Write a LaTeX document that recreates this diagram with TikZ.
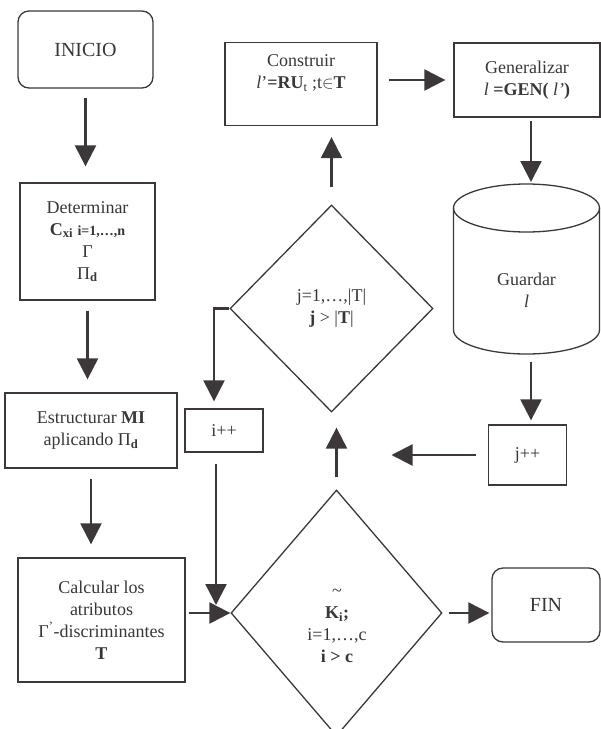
\documentclass[tikz,border=0pt]{standalone}
\usepackage{fontspec}
\setmainfont{Liberation Serif}
\usetikzlibrary{shapes.geometric,arrows.meta}

\definecolor{ink}{RGB}{60,56,58}
\definecolor{txt}{RGB}{55,55,55}

\tikzset{basic/.style={draw=ink,line width=1.3pt,text=txt,align=center,inner sep=2pt,font=\fontsize{18}{22}\selectfont}}
\tikzset{block/.style={basic,rectangle}}
\tikzset{terminal/.style={basic,rectangle,rounded corners=11pt,font=\fontsize{20}{24}\selectfont}}
\tikzset{decision/.style={basic,diamond,inner sep=0pt}}
\tikzset{link/.style={draw=ink,line width=2.2pt}}

\begin{document}
\begin{tikzpicture}[x=1pt, y=-1pt, >={Triangle[width=21pt,length=21pt]}]
	\useasboundingbox (0,0) rectangle (601,729);
	
	% left column
	\node [terminal, minimum width=135pt, minimum height=77pt] (inicio) at (85.5,49.5) {INICIO};
	\node [block, minimum width=135pt, minimum height=117pt] (det) at (87.5,241.5)
	  {Determinar\\ \textbf{C}\textsubscript{\textbf{xi}} {\fontsize{14}{17}\selectfont\textbf{i=1,\ldots,n}}\\ Γ\\ Π\textsubscript{\textbf{d}}};
	\node [block, minimum width=172pt, minimum height=75pt] (estr) at (91,430.5)
	  {Estructurar \textbf{MI}\\ aplicando Π\textsubscript{\textbf{d}}};
	\node [block, minimum width=167pt, minimum height=124pt] (calc) at (101.5,620)
	  {Calcular los\\ atributos\\ Γ\textsuperscript{’}-discriminantes\\ \textbf{T}};
	\node [block, minimum width=78pt, minimum height=43pt] (ipp) at (224,430.5) {i++};
	
	% decisions
	\node [decision, minimum width=211pt, minimum height=246pt] (kdiam) at (336.5,613) {};
	\node [basic, draw=none] (ktext) at (337,626)
	  {\textasciitilde\\ \textbf{K}\textsubscript{\textbf{i}}\textbf{;}\\ i=1,\ldots,c\\ \textbf{i > c}};
	\node [decision, minimum width=203pt, minimum height=207pt] (jdiam) at (331.5,308.5)
	  {j=1,\ldots,|T|\\ \textbf{j} > |\textbf{T}|};
	\node [terminal, minimum width=108pt, minimum height=74pt] (fin) at (546,605) {FIN};
	
	% top row
	\node [block, minimum width=152pt, minimum height=83pt, text depth=24pt] (cons) at (301,84)
	  {Construir\\ \textit{l}’\textbf{=RU}\textsubscript{t} ;t$\in$\textbf{T}};
	\node [block, minimum width=146pt, minimum height=74pt] (gen) at (527,80)
	  {Generalizar\\ \textit{l} \textbf{=GEN(} \textit{l’}\textbf{)}};
	\node [block, minimum width=78pt, minimum height=60pt] (jpp) at (527.5,455) {j++};
	
	% storage
	\coordinate (gtop) at (531,184);
	\coordinate (gbot) at (531,354);
	\draw [ink, line width=1.3pt] (453.5,208) -- (453.5,330)
	  arc [start angle=180, end angle=0, x radius=73, y radius=24] -- (599.5,208);
	\draw [ink, line width=1.3pt] (526.5,208) ellipse [x radius=73, y radius=24];
	\node [basic, draw=none] (guardar) at (526.5,290) {Guardar\\ \textit{l}};
	
	% left column arrows
	\draw [link, ->, shorten <=9pt, shorten >=16pt] (inicio.south) -- (inicio.south |- det.north);
	\draw [link, ->, shorten <=10pt, shorten >=13pt] (det.south) -- (det.south |- estr.north);
	\draw [link, ->, shorten <=10pt, shorten >=13pt] (estr.south) -- (estr.south |- calc.north);
	\draw [link, ->, shorten <=3pt] (calc.east |- kdiam.west) -- (kdiam.west);
	
	% inner loop
	\draw [link, ->, shorten >=7pt] (jdiam.west) -| ([xshift=-10pt]ipp.north);
	\draw [link, ->, shorten <=11pt, shorten >=8pt] ([xshift=-8pt]ipp.south) -- ([xshift=-8pt]ipp.south |- kdiam.west);
	\draw [link, ->, shorten <=12pt, shorten >=15pt] (kdiam.north) -- (kdiam.north |- jdiam.south);
	\draw [link, ->, shorten <=17pt, shorten >=11pt] (jdiam.north) -- (jdiam.north |- cons.south);
	\draw [link, ->, shorten <=11pt, shorten >=8pt] (gen.west -| cons.east) -- (gen.west);
	\draw [link, ->, shorten <=3pt, shorten >=2pt] (gtop |- gen.south) -- (gtop);
	\draw [link, ->, shorten <=8pt, shorten >=4pt] (gbot) -- (gbot |- jpp.north);
	\draw [link, ->, shorten <=12pt, shorten >=55pt] (jpp.west) -- (jpp.west -| kdiam.north);
	
	% exit
	\draw [link, ->, shorten <=6pt, shorten >=2pt] (kdiam.east) -- (kdiam.east -| fin.west);
	
\end{tikzpicture}
\end{document}
